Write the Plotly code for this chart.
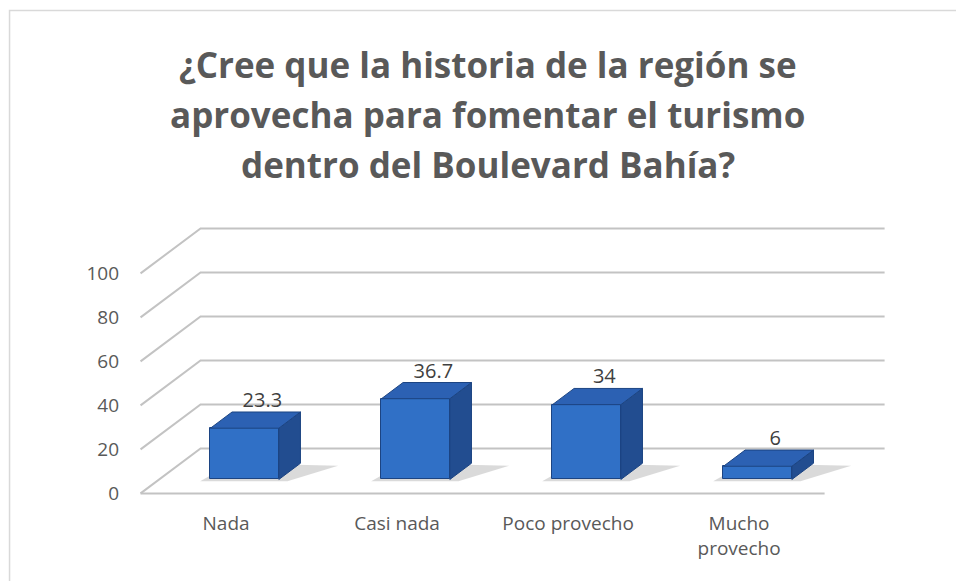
import plotly.graph_objects as go

# ---------------- data ----------------
categories = ["Nada", "Casi nada", "Poco provecho", "Mucho provecho"]
category_ticktext = ["Nada", "Casi nada", "Poco provecho", "Mucho<br>provecho"]
values = [23.3, 36.7, 34, 6]
value_labels = ["23.3", "36.7", "34", "6"]
y_ticks = [0, 20, 40, 60, 80, 100]
title_lines = [
    "¿Cree que la historia de la región se",
    "aprovecha para fomentar el turismo",
    "dentro del Boulevard Bahía?",
]

# ---------------- geometry / style ----------------
W, H = 956, 581
PX_PER_CAT = 171.0
PX_PER_VAL = 2.2
X0_PX = 141.0          # pixel of x = -0.5 (front left corner)
Y0_PX = 493.0          # pixel of value 0 on front plane
X_RANGE = [-0.55, 3.9]
Y_RANGE = [-3, 122]
DX = 60.0 / PX_PER_CAT     # depth offset in x units
DY = 45.0 / PX_PER_VAL     # depth offset in y units
F0, F1 = 0.31, 0.67        # bar front / back depth fractions
BAR_W = 0.40

plot_left = X0_PX + (X_RANGE[0] + 0.5) * PX_PER_CAT
plot_w = (X_RANGE[1] - X_RANGE[0]) * PX_PER_CAT
plot_top = Y0_PX - Y_RANGE[1] * PX_PER_VAL
plot_bot = Y0_PX - Y_RANGE[0] * PX_PER_VAL
plot_h = plot_bot - plot_top
margin = dict(l=plot_left, r=W - plot_left - plot_w, t=plot_top, b=H - plot_bot,
              pad=0, autoexpand=False)

def px_to_paper_x(px):
    return (px - plot_left) / plot_w

def px_to_paper_y(py):
    return (plot_bot - py) / plot_h

GRID = "#c3c3c3"
FRONT = "#3070C6"
TOP = "#2C61B3"
SIDE = "#224D90"
EDGE = "#1C4482"
TEXT = "#595959"

fig = go.Figure()

n = len(categories)
xl_front, xr_front = -0.5, n - 0.5

# back wall gridlines + left wall diagonals (below traces)
for v in y_ticks:
    fig.add_shape(type="path", xref="x", yref="y", layer="below",
                  path=f"M {xl_front},{v} L {xl_front + DX},{v + DY} L {xr_front + DX},{v + DY}",
                  line=dict(color=GRID, width=2))
# floor front edge
fig.add_shape(type="line", xref="x", yref="y", layer="below",
              x0=xl_front, y0=0, x1=xr_front, y1=0, line=dict(color=GRID, width=2))

# shadows on the floor (below traces)
for i, v in enumerate(values):
    xc = i + F0 * DX
    xl, xr = xc - BAR_W / 2, xc + BAR_W / 2
    b0 = F0 * DY
    d = F1 - F0
    pts = [(xl - 0.06, b0 - 0.8), (xr + 0.05, b0 - 0.8),
           (xr + d * DX + 0.22, b0 + d * DY * 0.85), (xl + d * DX, b0 + d * DY)]
    path = "M " + " L ".join(f"{a},{b}" for a, b in pts) + " Z"
    fig.add_shape(type="path", xref="x", yref="y", layer="below", path=path,
                  fillcolor="rgba(150,150,150,0.35)", line=dict(width=0))

# front faces (bars)
fig.add_trace(go.Bar(
    x=[i + F0 * DX for i in range(n)],
    y=values,
    base=[F0 * DY] * n,
    width=BAR_W,
    marker=dict(color=FRONT, line=dict(color=EDGE, width=1)),
    hoverinfo="skip", showlegend=False))

# top & side faces
for i, v in enumerate(values):
    xc = i + F0 * DX
    xl, xr = xc - BAR_W / 2, xc + BAR_W / 2
    b0 = F0 * DY
    top = b0 + v
    ddx, ddy = (F1 - F0) * DX, (F1 - F0) * DY
    fig.add_trace(go.Scatter(
        x=[xr, xr + ddx, xr + ddx, xr, xr],
        y=[b0, b0 + ddy, top + ddy, top, b0],
        fill="toself", fillcolor=SIDE, mode="lines",
        line=dict(color=EDGE, width=1), hoverinfo="skip", showlegend=False))
    fig.add_trace(go.Scatter(
        x=[xl, xl + ddx, xr + ddx, xr, xl],
        y=[top, top + ddy, top + ddy, top, top],
        fill="toself", fillcolor=TOP, mode="lines",
        line=dict(color=EDGE, width=1), hoverinfo="skip", showlegend=False))

# data labels
fig.add_trace(go.Scatter(
    x=[i + (F0 + F1) / 2 * DX + 0.04 for i in range(n)],
    y=[v + F1 * DY for v in values],
    mode="text", text=value_labels, textposition="top center",
    textfont=dict(family="Open Sans", size=20, color="#404040"),
    hoverinfo="skip", showlegend=False, cliponaxis=False))

# title lines
title_center_px = 488
for line, py in zip(title_lines, [64, 114, 164]):
    fig.add_annotation(
        text=f"<b>{line}</b>", xref="paper", yref="paper",
        x=px_to_paper_x(title_center_px), y=px_to_paper_y(py),
        xanchor="center", yanchor="middle", showarrow=False,
        font=dict(family="Open Sans", size=35, color=TEXT))

# outer chart border
fig.add_shape(type="rect", xref="paper", yref="paper",
              x0=px_to_paper_x(10), y0=px_to_paper_y(H + 20),
              x1=px_to_paper_x(W + 20), y1=px_to_paper_y(10),
              line=dict(color="#d9d9d9", width=1.5), fillcolor="rgba(0,0,0,0)")

fig.update_layout(
    width=W, height=H, margin=margin,
    paper_bgcolor="white", plot_bgcolor="white",
    bargap=0,
    xaxis=dict(range=X_RANGE, showgrid=False, zeroline=False, showline=False,
               tickvals=list(range(n)), ticktext=category_ticktext, ticks="",
               tickfont=dict(family="Open Sans", size=19, color=TEXT),
               ticklabelstandoff=10, automargin=False, fixedrange=True),
    yaxis=dict(range=Y_RANGE, showgrid=False, zeroline=False, showline=False,
               tickvals=y_ticks, ticktext=[str(t) for t in y_ticks], ticks="",
               tickfont=dict(family="Open Sans", size=19, color=TEXT),
               ticklabelstandoff=12, automargin=False, fixedrange=True),
    showlegend=False,
)

fig.write_html("out.html", config={"displayModeBar": False},
               post_script="document.body.style.margin='0px';")
